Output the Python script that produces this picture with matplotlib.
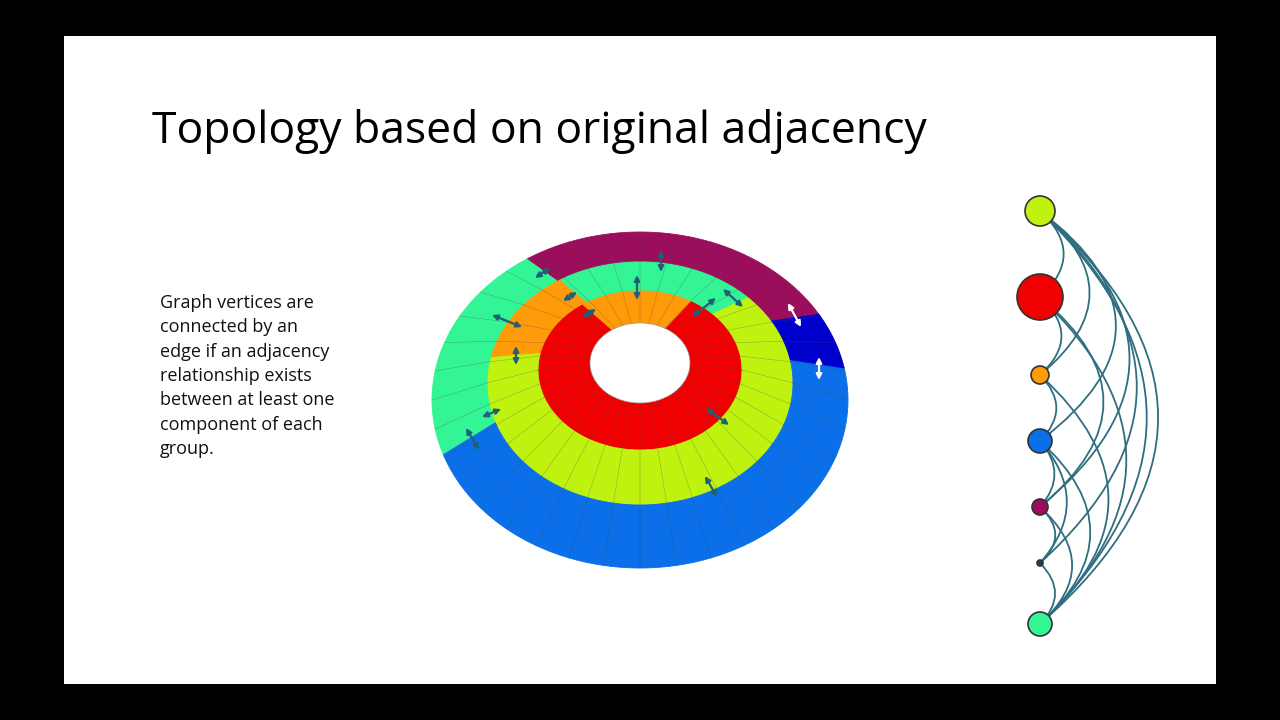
import numpy as np
import matplotlib
matplotlib.use("Agg")
import matplotlib.pyplot as plt
from matplotlib.patches import Polygon, Rectangle, Circle, PathPatch
from matplotlib.path import Path

title = "Topology based on original adjacency"
body = "Graph vertices are\nconnected by an\nedge if an adjacency\nrelationship exists\nbetween at least one\ncomponent of each\ngroup."

# ring ellipses (cx, cy, a, b): hole, red outer, middle outer, outer
ring_cx = [640, 640, 640, 640]
ring_cy = [363, 370, 383, 400]
ring_a = [50, 102, 153, 208]
ring_b = [40, 80, 122, 168]
# colour regions per ring: (start_deg, end_deg, colour)
C = dict(red="#F00000", orange="#FF9A08", yellow="#BFF20F", teal="#33F595",
         purple="#9B0E5B", dblue="#0000CC", blue="#0A6FE8")
ring_regions = [
    [(60, 125, "orange"), (125, 420, "red")],
    [(45, 122, "teal"), (122, 168, "orange"), (168, 405, "yellow")],
    [(11, 31, "dblue"), (31, 123, "purple"), (123, 199, "teal"), (199, 371, "blue")],
]
n_seg = 36

arrows = [((535,278),(550,268),'d'),((661,250),(661,272),'d'),((637,275),(637,300),'d'),
          ((563,301),(577,292),'d'),((582,318),(596,309),'d'),((492,315),(522,327),'d'),
          ((516,346),(516,365),'d'),((482,417),(501,409),'d'),((466,428),(479,450),'d'),
          ((692,317),(716,298),'d'),((723,289),(743,307),'d'),((788,303),(801,327),'w'),
          ((819,357),(819,380),'w'),((706,408),(729,425),'d'),((705,476),(717,497),'d')]

node_y = [211, 297, 375, 441, 507, 563, 624]
node_r = [15, 23, 9, 12, 8, 3, 12]
node_c = ["#BFF20F", "#F00000", "#FF9A08", "#0A6FE8", "#9B0E5B", "#1F3F5A", "#33F595"]
edges = [(0,1,0.5),(0,2,0.55),(0,3,0.6),(0,4,0.55),(0,6,0.52),(0,6,0.47),(0,5,0.5),
         (1,2,0.5),(1,4,0.55),(1,6,0.48),(2,6,0.5),(2,3,0.45),(3,6,0.5),(3,5,0.4),
         (4,6,0.5),(4,5,0.5),(5,6,0.45),(3,4,0.4)]

fig = plt.figure(figsize=(12.8, 7.2), dpi=100)
ax = fig.add_axes([0, 0, 1, 1])
ax.set_xlim(0, 1280); ax.set_ylim(720, 0); ax.axis("off")
fig.patch.set_facecolor("black")
ax.add_patch(Rectangle((64, 36), 1152, 648, facecolor="white", edgecolor="none"))

def pt(i, t):
    tr = np.deg2rad(t)
    return (ring_cx[i] + ring_a[i]*np.cos(tr), ring_cy[i] - ring_b[i]*np.sin(tr))

def colour_at(ring, t):
    for s, e, c in ring_regions[ring]:
        for tt in (t, t + 360):
            if s <= tt < e:
                return C[c]
    return "white"

for ring in range(3):
    # segment boundaries include region boundaries
    bounds = sorted(set(list(np.linspace(0, 360, n_seg+1)) +
                        [s % 360 for s, e, c in ring_regions[ring]]))
    for t0, t1 in zip(bounds[:-1], bounds[1:]):
        ts = np.linspace(t0, t1, 6)
        outer = [pt(ring+1, t) for t in ts]
        inner = [pt(ring, t) for t in ts[::-1]]
        col = colour_at(ring, (t0+t1)/2)
        ax.add_patch(Polygon(outer+inner, closed=True, facecolor=col,
                             edgecolor=col, lw=0.6))
    for t in np.linspace(0, 360, n_seg+1)[:-1]:
        p0, p1 = pt(ring, t), pt(ring+1, t)
        ax.plot([p0[0], p1[0]], [p0[1], p1[1]], color="#444444", lw=0.3, alpha=0.5)
ax.add_patch(Polygon([pt(0, t) for t in np.linspace(0, 360, 100)], facecolor="white",
                     edgecolor="#999999", lw=0.5))

for p0, p1, k in arrows:
    col = "#1F5F7A" if k == 'd' else "white"
    ax.annotate("", xy=p1, xytext=p0,
                arrowprops=dict(arrowstyle="<|-|>", color=col, lw=1.6,
                                mutation_scale=8, shrinkA=0, shrinkB=0))

x0 = 1040
for a, b, k in edges:
    ya, yb = node_y[a], node_y[b]
    cx = x0 + k*abs(yb-ya)*2*0.55
    path = Path([(x0, ya), (cx, (ya+yb)/2), (x0, yb)], [Path.MOVETO, Path.CURVE3, Path.CURVE3])
    ax.add_patch(PathPatch(path, facecolor="none", edgecolor="#2E6E80", lw=1.3))
for y, r, c in zip(node_y, node_r, node_c):
    ax.add_patch(Circle((x0, y), r, facecolor=c, edgecolor="#333333", lw=1.2, zorder=5))

ax.text(152, 131, title, fontsize=32, family="Open Sans", va="center", ha="left", color="black")
ax.text(160, 294, body, fontsize=13, family="Open Sans", va="top", ha="left",
        color="#111111", linespacing=1.45)

fig.savefig("out.png", dpi=100, facecolor="black")
